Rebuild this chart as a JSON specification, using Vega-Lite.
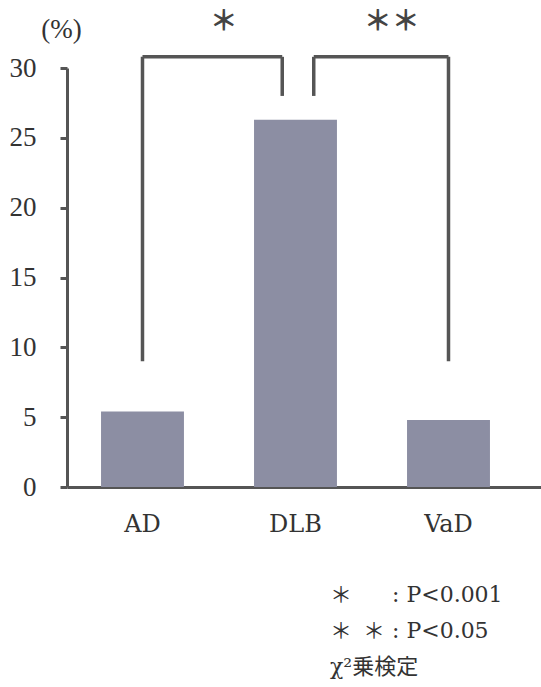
{
  "$schema": "https://vega.github.io/schema/vega-lite/v6.json",
  "autosize": {"type": "none"},
  "padding": {"left": 67, "top": 68, "right": 0, "bottom": 200},
  "width": 474,
  "height": 419,
  "background": "#ffffff",
  "config": {
    "view": {"stroke": null},
    "font": "Liberation Serif"
  },
  "title": {
    "text": ["＊\u2002\u3000 : P<0.001", "＊\u2002＊ : P<0.05", "χ²乗検定"],
    "orient": "bottom",
    "anchor": "start",
    "align": "left",
    "dx": 321,
    "offset": 49,
    "font": "DejaVu Serif, Noto Sans CJK JP",
    "fontSize": 22,
    "fontWeight": "normal",
    "lineHeight": 36,
    "color": "#333333",
    "baseline": "top"
  },
  "datasets": {
    "bars": [
      {"group": "AD", "value": 5.4},
      {"group": "DLB", "value": 26.3},
      {"group": "VaD", "value": 4.8}
    ],
    "outer": [
      {"group": "AD", "low": 9, "high": 30.8},
      {"group": "VaD", "low": 9, "high": 30.8}
    ],
    "innerLeft": [{"group": "DLB", "low": 28, "high": 30.8}],
    "innerRight": [{"group": "DLB", "low": 28, "high": 30.8}],
    "topLeft": [{"from": "AD", "to": "DLB", "y": 30.8}],
    "topRight": [{"from": "DLB", "to": "VaD", "y": 30.8}],
    "starLeft": [{"group": "AD", "y": 33.2, "label": "＊"}],
    "starRight": [{"group": "DLB", "y": 33.2, "label": "＊＊"}]
  },
  "layer": [
    {
      "data": {"name": "bars"},
      "mark": {"type": "bar", "color": "#8c8ea3"},
      "encoding": {
        "x": {
          "field": "group",
          "type": "nominal",
          "sort": ["AD", "DLB", "VaD"],
          "scale": {"paddingInner": 0.458, "paddingOuter": 0.278, "align": 0.4},
          "axis": {
            "title": null,
            "labelAngle": 0,
            "ticks": false,
            "domainColor": "#555555",
            "domainWidth": 3,
            "labelFont": "DejaVu Serif",
            "labelFontSize": 24,
            "labelColor": "#333333",
            "labelPadding": 25,
            "labelBaseline": "top"
          }
        },
        "y": {
          "field": "value",
          "type": "quantitative",
          "scale": {"domain": [0, 30], "nice": false},
          "axis": {
            "values": [0, 5, 10, 15, 20, 25, 30],
            "grid": false,
            "domainColor": "#555555",
            "domainWidth": 3,
            "tickColor": "#555555",
            "tickWidth": 3,
            "tickSize": 7,
            "labelFont": "Liberation Serif",
            "labelFontSize": 27,
            "labelColor": "#333333",
            "labelPadding": 24,
            "title": "(%)",
            "titleAngle": 0,
            "titleAlign": "center",
            "titleBaseline": "middle",
            "titleX": -6,
            "titleY": -39,
            "titleFont": "Liberation Serif",
            "titleFontSize": 27,
            "titleFontWeight": "normal",
            "titleColor": "#333333"
          }
        }
      }
    },
    {
      "data": {"name": "outer"},
      "mark": {"type": "rule", "color": "#555555", "strokeWidth": 3.5},
      "encoding": {
        "x": {"field": "group", "type": "nominal", "bandPosition": 0.5},
        "y": {"field": "low", "type": "quantitative"},
        "y2": {"field": "high"}
      }
    },
    {
      "data": {"name": "innerLeft"},
      "mark": {"type": "rule", "color": "#555555", "strokeWidth": 3.5},
      "encoding": {
        "x": {"field": "group", "type": "nominal", "bandPosition": 0.34},
        "y": {"field": "low", "type": "quantitative"},
        "y2": {"field": "high"}
      }
    },
    {
      "data": {"name": "innerRight"},
      "mark": {"type": "rule", "color": "#555555", "strokeWidth": 3.5},
      "encoding": {
        "x": {"field": "group", "type": "nominal", "bandPosition": 0.72},
        "y": {"field": "low", "type": "quantitative"},
        "y2": {"field": "high"}
      }
    },
    {
      "data": {"name": "topLeft"},
      "mark": {"type": "rule", "color": "#555555", "strokeWidth": 3.5},
      "encoding": {
        "x": {"field": "from", "type": "nominal", "bandPosition": 0.5},
        "x2": {"field": "to", "bandPosition": 0.34},
        "y": {"field": "y", "type": "quantitative"}
      }
    },
    {
      "data": {"name": "topRight"},
      "mark": {"type": "rule", "color": "#555555", "strokeWidth": 3.5},
      "encoding": {
        "x": {"field": "from", "type": "nominal", "bandPosition": 0.72},
        "x2": {"field": "to", "bandPosition": 0.5},
        "y": {"field": "y", "type": "quantitative"}
      }
    },
    {
      "data": {"name": "starLeft"},
      "mark": {"type": "text", "font": "Noto Sans CJK JP", "fontSize": 28, "fontWeight": "bold", "color": "#444444", "baseline": "middle"},
      "encoding": {
        "x": {"field": "group", "type": "nominal", "bandPosition": 1.48},
        "y": {"field": "y", "type": "quantitative"},
        "text": {"field": "label"}
      }
    },
    {
      "data": {"name": "starRight"},
      "mark": {"type": "text", "font": "Noto Sans CJK JP", "fontSize": 28, "fontWeight": "bold", "color": "#444444", "baseline": "middle"},
      "encoding": {
        "x": {"field": "group", "type": "nominal", "bandPosition": 1.66},
        "y": {"field": "y", "type": "quantitative"},
        "text": {"field": "label"}
      }
    }
  ]
}
